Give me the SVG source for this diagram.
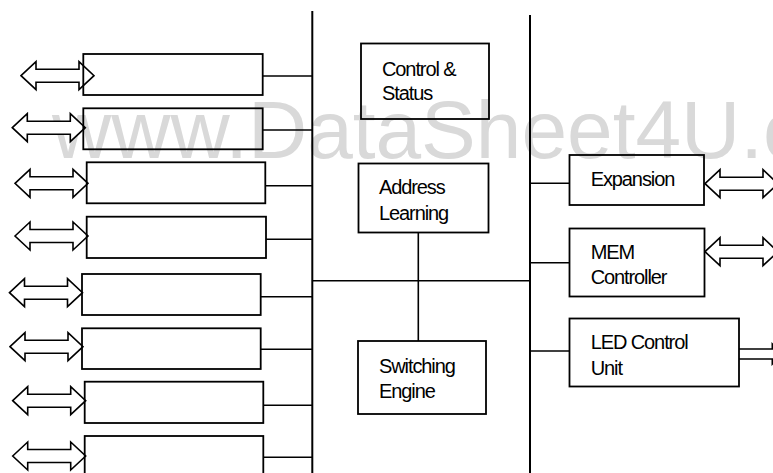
<svg xmlns="http://www.w3.org/2000/svg" width="773" height="473" viewBox="0 0 773 473">
  <style>
    .box { fill: none; stroke: #000; stroke-width: 1.8; }
    .bus { stroke: #000; stroke-width: 2; fill: none; }
    .wire { stroke: #000; stroke-width: 1.6; fill: none; }
    .arrow { fill: #fff; stroke: #000; stroke-width: 1.6; stroke-linejoin: miter; }
    .lbl { font-family: "Liberation Sans", Arial, sans-serif; font-size: 20px; letter-spacing: -1.1px; fill: #000; }
    .wm { font-family: "Liberation Sans", Arial, sans-serif; font-size: 82px; fill: #d9d9d9; }
  </style>
  <defs>
    <path id="dblarrow" class="arrow" d="M0,0 L15,-14 L15,-6.5 L58,-6.5 L58,-14 L73,0 L58,14 L58,6.5 L15,6.5 L15,14 Z"/>
  </defs>
  <rect x="0" y="0" width="773" height="473" fill="#fff"/>
  <text class="wm" x="52" y="158">www.DataSheet4U.com</text>

  <g id="connectors">
    <line class="bus" x1="312.3" y1="11" x2="312.3" y2="473"/>
    <line class="bus" x1="530" y1="15" x2="530" y2="473"/>
    <line class="wire" x1="312.3" y1="280.7" x2="530" y2="280.7"/>
    <line class="wire" x1="418.3" y1="232.5" x2="418.3" y2="341"/>
    <line class="wire" x1="263" y1="76" x2="312.3" y2="76"/>
    <line class="wire" x1="263" y1="130" x2="312.3" y2="130"/>
    <line class="wire" x1="265.5" y1="185.7" x2="312.3" y2="185.7"/>
    <line class="wire" x1="266" y1="239.3" x2="312.3" y2="239.3"/>
    <line class="wire" x1="260.7" y1="296.7" x2="312.3" y2="296.7"/>
    <line class="wire" x1="260.7" y1="349.3" x2="312.3" y2="349.3"/>
    <line class="wire" x1="263.3" y1="405.3" x2="312.3" y2="405.3"/>
    <line class="wire" x1="263.3" y1="457.3" x2="312.3" y2="457.3"/>
    <line class="wire" x1="530" y1="183.3" x2="569.5" y2="183.3"/>
    <line class="wire" x1="530" y1="262.7" x2="569.5" y2="262.7"/>
    <line class="wire" x1="530" y1="351" x2="569.5" y2="351"/>
    <use href="#dblarrow" transform="translate(21,75.7)"/>
    <use href="#dblarrow" transform="translate(12.3,127.7)"/>
    <use href="#dblarrow" transform="translate(15,183.3)"/>
    <use href="#dblarrow" transform="translate(15,236)"/>
    <use href="#dblarrow" transform="translate(9.5,292.7)"/>
    <use href="#dblarrow" transform="translate(10,346.7)"/>
    <use href="#dblarrow" transform="translate(12.7,400.7)"/>
    <use href="#dblarrow" transform="translate(12.7,456)"/>
    <use href="#dblarrow" transform="translate(705,183.7)"/>
    <use href="#dblarrow" transform="translate(705,251.7)"/>
    <path class="arrow" d="M739,349 L772.3,349 L772.3,344 L782,354 L772.3,364 L772.3,359 L739,359"/>
  </g>

  <g id="port1"><rect class="box" x="83.3" y="54" width="179.4" height="41"/></g>
  <g id="port2"><rect class="box" x="83.3" y="108.3" width="179.4" height="41"/></g>
  <g id="port3"><rect class="box" x="86.7" y="162.3" width="178.6" height="41"/></g>
  <g id="port4"><rect class="box" x="86.7" y="216.7" width="179.3" height="41.3"/></g>
  <g id="port5"><rect class="box" x="82" y="274" width="178.7" height="41"/></g>
  <g id="port6"><rect class="box" x="82" y="328.3" width="178.7" height="40.7"/></g>
  <g id="port7"><rect class="box" x="84.7" y="381.7" width="178.6" height="41.3"/></g>
  <g id="port8"><rect class="box" x="84.7" y="436" width="178.6" height="45"/></g>

  <g id="control-status">
    <rect class="box" x="361" y="43.5" width="128" height="75.5"/>
    <text class="lbl" x="382" y="76">Control &amp;</text>
    <text class="lbl" x="382" y="100">Status</text>
  </g>
  <g id="address-learning">
    <rect class="box" x="358.5" y="163.5" width="130" height="69"/>
    <text class="lbl" x="379" y="194.3">Address</text>
    <text class="lbl" x="379" y="220">Learning</text>
  </g>
  <g id="switching-engine">
    <rect class="box" x="358" y="341" width="128" height="73"/>
    <text class="lbl" x="379" y="372.7">Switching</text>
    <text class="lbl" x="379" y="397.7">Engine</text>
  </g>
  <g id="expansion">
    <rect class="box" x="569.5" y="155" width="134.5" height="50"/>
    <text class="lbl" x="590.7" y="185.7">Expansion</text>
  </g>
  <g id="mem-controller">
    <rect class="box" x="569.5" y="228.5" width="135" height="68"/>
    <text class="lbl" x="590.7" y="259.3">MEM</text>
    <text class="lbl" x="590.7" y="284">Controller</text>
  </g>
  <g id="led-control-unit">
    <rect class="box" x="569.5" y="318.5" width="169.5" height="68"/>
    <text class="lbl" x="590.7" y="349.3">LED Control</text>
    <text class="lbl" x="590.7" y="375">Unit</text>
  </g>
</svg>
